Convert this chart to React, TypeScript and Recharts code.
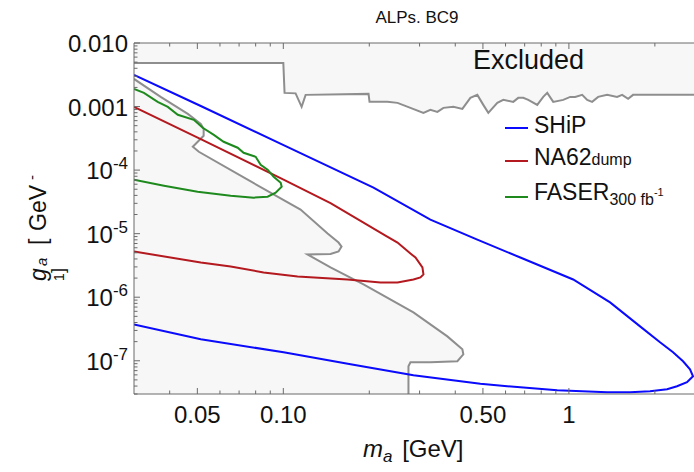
import React from "react";
import { Area, ComposedChart, Legend, Line, XAxis, YAxis } from "recharts";

// m_a [GeV], g_a [GeV^-1]
const shipCurve = [
  { m: 0.03, g: 3.15e-3 },
  { m: 0.0514, g: 1.02e-3 },
  { m: 0.1002, g: 2.48e-4 },
  { m: 0.2069, g: 5.29e-5 },
  { m: 0.3273, g: 1.665e-5 },
  { m: 0.4779, g: 8.08e-6 },
  { m: 0.676, g: 4.21e-6 },
  { m: 1.035, g: 1.9e-6 },
  { m: 1.394, g: 8.29e-7 },
  { m: 1.775, g: 3.48e-7 },
  { m: 2.085, g: 1.95e-7 },
  { m: 2.316, g: 1.36e-7 },
  { m: 2.51, g: 9.82e-8 },
  { m: 2.655, g: 7.35e-8 },
  { m: 2.72, g: 5.71e-8 },
  { m: 2.592, g: 4.6e-8 },
  { m: 2.391, g: 3.98e-8 },
  { m: 2.207, g: 3.57e-8 },
  { m: 1.924, g: 3.32e-8 },
  { m: 1.638, g: 3.2e-8 },
  { m: 1.361, g: 3.2e-8 },
  { m: 0.91, g: 3.44e-8 },
  { m: 0.6085, g: 3.98e-8 },
  { m: 0.4897, g: 4.35e-8 },
  { m: 0.2855, g: 5.92e-8 },
  { m: 0.172, g: 8.81e-8 },
  { m: 0.1002, g: 1.36e-7 },
  { m: 0.0514, g: 2.18e-7 },
  { m: 0.03, g: 3.74e-7 },
];

const na62Curve = [
  { m: 0.03, g: 9.89e-4 },
  { m: 0.0514, g: 3.08e-4 },
  { m: 0.1002, g: 7.07e-5 },
  { m: 0.1463, g: 3.02e-5 },
  { m: 0.1909, g: 1.494e-5 },
  { m: 0.2279, g: 9.34e-6 },
  { m: 0.2511, g: 7.25e-6 },
  { m: 0.2787, g: 4.87e-6 },
  { m: 0.2902, g: 4.21e-6 },
  { m: 0.307, g: 2.94e-6 },
  { m: 0.3095, g: 2.28e-6 },
  { m: 0.3021, g: 2.05e-6 },
  { m: 0.2855, g: 1.903e-6 },
  { m: 0.2511, g: 1.708e-6 },
  { m: 0.2189, g: 1.708e-6 },
  { m: 0.1678, g: 1.903e-6 },
  { m: 0.1122, g: 2.12e-6 },
  { m: 0.0853, g: 2.45e-6 },
  { m: 0.0654, g: 3.04e-6 },
  { m: 0.0514, g: 3.52e-6 },
  { m: 0.03, g: 5.24e-6 },
];

const faserCurve = [
  { m: 0.03, g: 1.896e-3 },
  { m: 0.0325, g: 1.641e-3 },
  { m: 0.0363, g: 1.185e-3 },
  { m: 0.0394, g: 9.89e-4 },
  { m: 0.0427, g: 7.41e-4 },
  { m: 0.0486, g: 6.18e-4 },
  { m: 0.0522, g: 4.63e-4 },
  { m: 0.0571, g: 3.59e-4 },
  { m: 0.0618, g: 2.79e-4 },
  { m: 0.0692, g: 2.25e-4 },
  { m: 0.0726, g: 1.875e-4 },
  { m: 0.08, g: 1.623e-4 },
  { m: 0.0833, g: 1.216e-4 },
  { m: 0.0881, g: 1.015e-4 },
  { m: 0.0925, g: 7.87e-5 },
  { m: 0.0979, g: 6.34e-5 },
  { m: 0.0987, g: 5.49e-5 },
  { m: 0.094, g: 4.42e-5 },
  { m: 0.0881, g: 3.82e-5 },
  { m: 0.0788, g: 3.69e-5 },
  { m: 0.0654, g: 3.96e-5 },
  { m: 0.0501, g: 4.58e-5 },
  { m: 0.0382, g: 5.69e-5 },
  { m: 0.03, g: 7.07e-5 },
];

const lowerExcluded = [
  { m: 0.03, g: 2.72e-3 },
  { m: 0.0372, g: 1.42e-3 },
  { m: 0.0463, g: 7.68e-4 },
  { m: 0.0514, g: 5.35e-4 },
  { m: 0.0526, g: 4.47e-4 },
  { m: 0.0526, g: 3.47e-4 },
  { m: 0.0482, g: 2.33e-4 },
  { m: 0.0506, g: 1.945e-4 },
  { m: 0.075, g: 7.07e-5 },
  { m: 0.1149, g: 2.39e-5 },
  { m: 0.1429, g: 1.004e-5 },
  { m: 0.1561, g: 7.25e-6 },
  { m: 0.1599, g: 6.27e-6 },
  { m: 0.1561, g: 5.24e-6 },
  { m: 0.1463, g: 4.78e-6 },
  { m: 0.1216, g: 4.7e-6 },
  { m: 0.1463, g: 2.94e-6 },
  { m: 0.1909, g: 1.588e-6 },
  { m: 0.2855, g: 5.77e-7 },
  { m: 0.3753, g: 2.42e-7 },
  { m: 0.4236, g: 1.515e-7 },
  { m: 0.427, g: 1.265e-7 },
  { m: 0.4069, g: 9.82e-8 },
  { m: 0.3273, g: 9.47e-8 },
  { m: 0.2787, g: 9.47e-8 },
  { m: 0.2743, g: 8.2e-8 },
  { m: 0.2743, g: 3e-8 },
];

const upperExcluded = [
  { m: 0.03, g: 4.85e-3 },
  { m: 0.1, g: 4.85e-3 },
  { m: 0.101, g: 1.641e-3 },
  { m: 0.1104, g: 1.612e-3 },
  { m: 0.1159, g: 9.89e-4 },
  { m: 0.1197, g: 1.527e-3 },
  { m: 0.1988, g: 1.583e-3 },
  { m: 0.2004, g: 1.185e-3 },
  { m: 0.2315, g: 1.185e-3 },
  { m: 0.2511, g: 1.143e-3 },
  { m: 0.2787, g: 9.54e-4 },
  { m: 0.3095, g: 7.96e-4 },
  { m: 0.3273, g: 8.87e-4 },
  { m: 0.3463, g: 8.25e-4 },
  { m: 0.3636, g: 9.54e-4 },
  { m: 0.394, g: 9.89e-4 },
  { m: 0.4236, g: 9.2e-4 },
  { m: 0.4518, g: 1.37e-3 },
  { m: 0.4779, g: 1.527e-3 },
  { m: 0.5015, g: 1.063e-3 },
  { m: 0.5222, g: 7.96e-4 },
  { m: 0.5614, g: 1.143e-3 },
  { m: 0.5892, g: 1.274e-3 },
  { m: 0.6385, g: 1.185e-3 },
  { m: 0.6648, g: 1.37e-3 },
  { m: 0.6922, g: 1.37e-3 },
  { m: 0.7207, g: 1.274e-3 },
  { m: 0.7747, g: 1.063e-3 },
  { m: 0.8132, g: 1.42e-3 },
  { m: 0.8398, g: 1.641e-3 },
  { m: 0.8813, g: 1.185e-3 },
  { m: 0.9552, g: 1.274e-3 },
  { m: 1.0105, g: 1.42e-3 },
  { m: 1.052, g: 1.42e-3 },
  { m: 1.113, g: 1.527e-3 },
  { m: 1.159, g: 1.274e-3 },
  { m: 1.206, g: 1.185e-3 },
  { m: 1.266, g: 1.42e-3 },
  { m: 1.361, g: 1.527e-3 },
  { m: 1.475, g: 1.42e-3 },
  { m: 1.536, g: 1.527e-3 },
  { m: 1.612, g: 1.321e-3 },
  { m: 1.678, g: 1.527e-3 },
  { m: 2.742, g: 1.527e-3 },
];

const xTicks = [0.04, 0.05, 0.06, 0.07, 0.08, 0.09, 0.1, 0.2, 0.3, 0.4, 0.5, 0.6, 0.7, 0.8, 0.9, 1, 2];
const xMajor = [0.05, 0.1, 0.5, 1];
const xMajorLabels = ["0.05", "0.10", "0.50", "1"];

const yTicks = [
  3e-8, 4e-8, 5e-8, 6e-8, 7e-8, 8e-8, 9e-8,
  1e-7, 2e-7, 3e-7, 4e-7, 5e-7, 6e-7, 7e-7, 8e-7, 9e-7,
  1e-6, 2e-6, 3e-6, 4e-6, 5e-6, 6e-6, 7e-6, 8e-6, 9e-6,
  1e-5, 2e-5, 3e-5, 4e-5, 5e-5, 6e-5, 7e-5, 8e-5, 9e-5,
  1e-4, 2e-4, 3e-4, 4e-4, 5e-4, 6e-4, 7e-4, 8e-4, 9e-4,
  1e-3, 2e-3, 3e-3, 4e-3, 5e-3, 6e-3, 7e-3, 8e-3, 9e-3,
  1e-2,
];
const yMajor = [1e-7, 1e-6, 1e-5, 1e-4, 1e-3, 1e-2];
const yMajorLabels = [["10", "-7"], ["10", "-6"], ["10", "-5"], ["10", "-4"], ["0.001"], ["0.010"]];

const legendOrder = ["SHiP", "NA62", "FASER"];
const legendLabels: Record<string, { main: string; sub?: string; sup?: string; plain?: string }> = {
  SHiP: { main: "SHiP" },
  NA62: { main: "NA62", plain: "dump" },
  FASER: { main: "FASER", sub: "300 fb", sup: "-1" },
};

const font = "'Liberation Sans', Arial, sans-serif";
const axisColor = "#6b6b6b";
const excludedFill = "#f7f7f7";
const excludedLine = "#8e8e8e";

const near = (a: number, b: number) => Math.abs(a - b) / b < 1e-6;

function BottomTick(props: any) {
  const { x, y, payload } = props;
  const i = xMajor.findIndex((v) => near(payload.value, v));
  return (
    <g>
      <line x1={x} x2={x} y1={y} y2={y - (i >= 0 ? 6 : 3.5)} stroke={axisColor} />
      {i >= 0 && (
        <text x={x} y={y + 29} textAnchor="middle" fontSize={24} fill="#111" fontFamily={font}>
          {xMajorLabels[i]}
        </text>
      )}
    </g>
  );
}

function TopTick(props: any) {
  const { x, y, payload } = props;
  const major = xMajor.some((v) => near(payload.value, v));
  return <line x1={x} x2={x} y1={y} y2={y + (major ? 6 : 3.5)} stroke={axisColor} />;
}

function LeftTick(props: any) {
  const { x, y, payload } = props;
  const i = yMajor.findIndex((v) => near(payload.value, v));
  const label = i >= 0 ? yMajorLabels[i] : null;
  return (
    <g>
      <line x1={x} x2={x + (i >= 0 ? 6 : 3.5)} y1={y} y2={y} stroke={axisColor} />
      {label && (
        <text x={x - 6} y={y + 9} textAnchor="end" fontSize={24} fill="#111" fontFamily={font}>
          {label[0]}
          {label[1] && (
            <tspan fontSize={17} dy={-10}>
              {label[1]}
            </tspan>
          )}
        </text>
      )}
    </g>
  );
}

function LegendBox(props: any) {
  const items = legendOrder
    .map((name) => (props.payload || []).find((p: any) => p.value === name))
    .filter(Boolean);
  const rows = [
    { line: 18, base: 23 },
    { line: 51, base: 55 },
    { line: 87, base: 90 },
  ];
  return (
    <svg width={190} height={105} style={{ display: "block", overflow: "visible" }}>
      {items.map((p: any, i: number) => {
        const lab = legendLabels[p.value];
        const r = rows[i];
        return (
          <g key={p.value}>
            <line x1={5} x2={28} y1={r.line} y2={r.line} stroke={p.color} strokeWidth={2} />
            <text x={34} y={r.base} fontSize={23} fill="#111" fontFamily={font}>
              {lab.main}
              {lab.plain && <tspan fontSize={16}>{lab.plain}</tspan>}
              {lab.sub && (
                <tspan fontSize={16} dy={5}>
                  {lab.sub}
                </tspan>
              )}
              {lab.sup && (
                <tspan fontSize={11} dy={-9}>
                  {lab.sup}
                </tspan>
              )}
            </text>
          </g>
        );
      })}
    </svg>
  );
}

export default function App() {
  return (
    <div style={{ position: "absolute", left: 0, top: 0, width: 694, height: 472, fontFamily: font, background: "#fff" }}>
      <ComposedChart width={694} height={472} margin={{ top: 13, right: 0, bottom: 0, left: 0 }}>
        <XAxis
          dataKey="m"
          type="number"
          scale="log"
          domain={[0.03, 2.742]}
          allowDataOverflow
          ticks={xTicks}
          interval={0}
          height={78}
          tickSize={0}
          tickMargin={0}
          tickLine={false}
          axisLine={{ stroke: axisColor }}
          tick={<BottomTick />}
        />
        <XAxis
          xAxisId="top"
          orientation="top"
          dataKey="m"
          type="number"
          scale="log"
          domain={[0.03, 2.742]}
          allowDataOverflow
          ticks={xTicks}
          interval={0}
          height={30}
          tickSize={0}
          tickMargin={0}
          tickLine={false}
          axisLine={{ stroke: axisColor }}
          tick={<TopTick />}
        />
        <YAxis
          dataKey="g"
          type="number"
          scale="log"
          domain={[3e-8, 1e-2]}
          allowDataOverflow
          ticks={yTicks}
          interval={0}
          width={134}
          tickSize={0}
          tickMargin={0}
          tickLine={false}
          axisLine={{ stroke: axisColor }}
          tick={<LeftTick />}
        />
        <Area
          data={upperExcluded}
          dataKey="g"
          type="linear"
          baseValue={1e-2}
          fill={excludedFill}
          fillOpacity={1}
          stroke={excludedLine}
          strokeWidth={2}
          legendType="none"
          isAnimationActive={false}
        />
        <Area
          data={lowerExcluded}
          dataKey="g"
          type="linear"
          baseValue={3e-8}
          fill={excludedFill}
          fillOpacity={1}
          stroke={excludedLine}
          strokeWidth={2}
          legendType="none"
          isAnimationActive={false}
        />
        <Line data={shipCurve} dataKey="g" name="SHiP" type="linear" stroke="#0a0aff" strokeWidth={2} dot={false} isAnimationActive={false} />
        <Line data={na62Curve} dataKey="g" name="NA62" type="linear" stroke="#b3191e" strokeWidth={2} dot={false} isAnimationActive={false} />
        <Line data={faserCurve} dataKey="g" name="FASER" type="linear" stroke="#1e8a1e" strokeWidth={2} dot={false} isAnimationActive={false} />
        <Legend
          layout="vertical"
          align="center"
          verticalAlign="middle"
          content={<LegendBox />}
          wrapperStyle={{ left: 500, top: 110, width: 190, height: 105 }}
        />
        <text x={417} y={23} textAnchor="middle" fontSize={17} fill="#111" fontFamily={font}>
          ALPs. BC9
        </text>
        <text x={363} y={457} fontSize={24} fill="#111" fontFamily={font}>
          <tspan fontStyle="italic">m</tspan>
          <tspan fontStyle="italic" fontSize={17} dy={5}>a</tspan>
          <tspan dy={-5} dx={3}> [GeV]</tspan>
        </text>
        <text transform="translate(46,281) rotate(-90)" fontSize={23} fill="#111" fontFamily={font}>
          <tspan x={0} fontStyle="italic">g</tspan>
          <tspan x={15} dy={1} fontStyle="italic" fontSize={15}>a</tspan>
          <tspan x={36} dy={-1}>[</tspan>
          <tspan x={50}>GeV</tspan>
          <tspan x={101} dy={-9} fontSize={15}>-</tspan>
        </text>
        <text transform="translate(64,281) rotate(-90)" fill="#111" fontFamily={font}>
          <tspan x={0} fontSize={14}>1</tspan>
          <tspan x={8} fontSize={18}>]</tspan>
        </text>
      </ComposedChart>
      <svg
        width={694}
        height={472}
        style={{ position: "absolute", left: 0, top: 0, pointerEvents: "none" }}
      >
        <text x={473} y={69} fontSize={27} fill="#111" fontFamily={font}>
          Excluded
        </text>
      </svg>
    </div>
  );
}
